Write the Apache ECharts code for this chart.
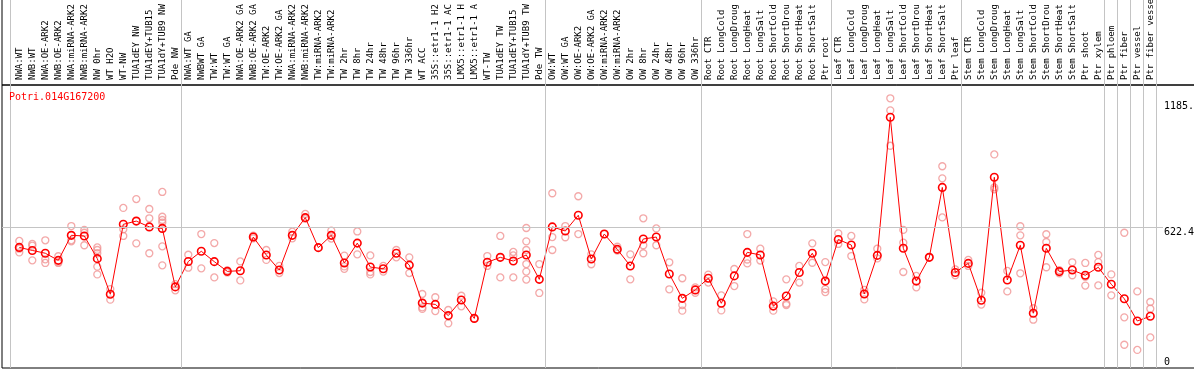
<!DOCTYPE html>
<html>
<head>
<meta charset="utf-8">
<script src="https://cdn.jsdelivr.net/npm/echarts@6.0.0/dist/echarts.min.js"></script>
<style>
html,body{margin:0;padding:0;background:#fff;}
#chart{width:1194px;height:370px;}
</style>
</head>
<body>
<div id="chart"></div>
<script>
const geneName = 'Potri.014G167200';

const categories = [
'NWA:WT','NWB:WT','NWA:OE-ARK2','NWB:OE-ARK2','NWA:miRNA-ARK2','NWB:miRNA-ARK2','NW 0hr','WT H2O','WT-NW','TUA1dEY NW','TUA1dEY+TUB15','TUA1dY+TUB9 NW','Pde NW',
'NWA:WT GA','NWBWT GA','TW:WT','TW:WT GA','NWA:OE-ARK2 GA','NWB:OE-ARK2 GA','TW:OE-ARK2','TW:OE-ARK2 GA','NWA:miRNA-ARK2','NWB:miRNA-ARK2','TW:miRNA-ARK2','TW:miRNA-ARK2','TW 2hr','TW 8hr','TW 24hr','TW 48hr','TW 96hr','TW 336hr','WT ACC','35S::etr1-1 H2','35S::etr1-1 AC','LMX5::etr1-1 H','LMX5::etr1-1 A','WT-TW','TUA1dEY TW','TUA1dEY+TUB15','TUA1dY+TUB9 TW','Pde TW',
'OW:WT','OW:WT GA','OW:OE-ARK2','OW:OE-ARK2 GA','OW:miRNA-ARK2','OW:miRNA-ARK2','OW 2hr','OW 8hr','OW 24hr','OW 48hr','OW 96hr','OW 336hr',
'Root CTR','Root LongCold','Root LongDroug','Root LongHeat','Root LongSalt','Root ShortCold','Root ShortDrou','Root ShortHeat','Root ShortSalt','Ptr root',
'Leaf CTR','Leaf LongCold','Leaf LongDroug','Leaf LongHeat','Leaf LongSalt','Leaf ShortCold','Leaf ShortDrou','Leaf ShortHeat','Leaf ShortSalt','Ptr leaf',
'Stem CTR','Stem LongCold','Stem LongDroug','Stem LongHeat','Stem LongSalt','Stem ShortCold','Stem ShortDrou','Stem ShortHeat','Stem ShortSalt','Ptr shoot','Ptr xylem',
'Ptr phloem','Ptr fiber','Ptr vessel','Ptr fiber vessel'
];

const meanValues = [
531,517,504,471,587,584,479,314,638,653,626,619,348,
466,513,465,420,423,579,496,426,587,669,530,587,459,551,440,432,504,449,273,267,215,287,202,462,485,468,496,383,
626,607,680,477,593,522,445,570,579,408,295,334,
388,272,399,508,496,259,306,415,504,375,
568,542,315,494,1134,527,375,485,809,415,
457,286,856,380,541,226,527,419,426,402,439,
360,293,190,212
];

const replicateValues = [
[561,525,508],[547,539,471],[564,476,459],[490,462,459],[630,559,564],[612,599,541],[531,519,504,442,406],[338,289],[714,615,584],[755,550],[709,666,504],[788,673,658,646,536,448],[361,332],
[497,437],[593,434],[551,392],[425,415],[466,378],[585,573],[519,473],[445,412],[604,573],[686,664],[530],[609,572],[493,443,432],[605,499],[494,417,406],[445,419],[519,485],[485,412],[315,253,246],[300,236],[241,179],[307,258],[202],[491,445],[584,392],[510,494,392],[621,559,519,454,419,382],[454,320],
[782,579,519],[630,578],[768,593],[499,453],[593],[534,516],[499,383],[666,541,504],[619,541],[462,337],[388,264,238],[346,321],
[405,368],[309,239],[431,352],[593,475,457],[525,470],[281,238],[383,270,264],[445,368],[550,460],[463,338,324],
[596,547],[584,491],[334,290],[525,480],[1222,1166,1002],[612,553,417],[399,346],[485],[907,851,670],[429,402],
[473,445],[321,266],[962,809,800],[422,327],[629,587,411],[249,196],[592,556,439],[426,411],[462,402],[459,395,354],[496,463,355],
[406,309],[599,207,80],[327,56],[278,247,114]
];

const yTickValues = [0, 622.4, 1185];
const yTickLabels = ['0', '622.4', '1185.'];
const groupLastIndex = [12, 40, 52, 62, 72, 83, 84, 85, 86, 87];

// layout constants
const X_MIN = -1.3308, X_MAX = 87.977;
const Y_MIN = -27.8, Y_MAX = 1283.6;
const MONO = 'DejaVu Sans Mono';

const sepLines = [{xAxis: -0.66}].concat(groupLastIndex.map(i => ({xAxis: i + 0.42})));
const repData = [];
replicateValues.forEach((arr, i) => arr.forEach(v => repData.push([i, v])));
const meanData = meanValues.map((v, i) => [i, v]);

const chart = echarts.init(document.getElementById('chart'), null, {renderer: 'canvas'});
const option = {
  animation: false,
  backgroundColor: '#ffffff',
  title: {
    text: geneName, left: 9, top: 92, padding: 0,
    textStyle: {color: '#ff0000', fontSize: 10, fontWeight: 'normal', fontFamily: MONO}
  },
  grid: [
    {left: 2, right: 31, top: 85, bottom: 2, outerBoundsMode: 'none'},
    {left: 12.8, right: 37.2, top: 85, bottom: 2, outerBoundsMode: 'none'},
    {left: 2, right: 31, top: 0, bottom: 2, outerBoundsMode: 'none'},
    {left: 2, right: -5, top: 85, bottom: 2, show: true, borderColor: '#000', borderWidth: 1, backgroundColor: 'transparent', outerBoundsMode: 'none'},
    {left: 2, right: -5, top: -5, height: 90, show: true, borderColor: '#000', borderWidth: 1, backgroundColor: 'transparent', outerBoundsMode: 'none'}
  ],
  xAxis: [
    {gridIndex: 0, type: 'value', min: X_MIN, max: X_MAX, show: false},
    {gridIndex: 1, type: 'category', data: categories, position: 'top', boundaryGap: true,
      axisLine: {show: false}, axisTick: {show: false}, splitLine: {show: false},
      axisLabel: {interval: 0, rotate: 90, margin: 5, fontSize: 9, fontFamily: MONO, color: '#000'}},
    {gridIndex: 2, type: 'value', min: X_MIN, max: X_MAX, show: false},
    {gridIndex: 3, type: 'value', min: 0, max: 1, show: false},
    {gridIndex: 4, type: 'value', min: 0, max: 1, show: false}
  ],
  yAxis: [
    {gridIndex: 0, type: 'value', min: Y_MIN, max: Y_MAX, position: 'right',
      axisLine: {show: false}, axisTick: {show: false}, splitLine: {show: false},
      axisLabel: {
        customValues: yTickValues, margin: 1, fontSize: 10, fontFamily: MONO, color: '#000', align: 'left',
        formatter: function (v) {
          const i = yTickValues.indexOf(v);
          const t = i >= 0 ? yTickLabels[i] : '';
          return i === 1 ? '{low|' + t + '}' : t;
        },
        rich: {low: {padding: [10, 0, 0, 0], fontSize: 10, fontFamily: MONO, color: '#000'}}
      }},
    {gridIndex: 1, type: 'value', min: 0, max: 1, show: false},
    {gridIndex: 2, type: 'value', min: 0, max: 1, show: false},
    {gridIndex: 3, type: 'value', min: 0, max: 1, show: false},
    {gridIndex: 4, type: 'value', min: 0, max: 1, show: false}
  ],
  series: [
    {
      type: 'line', xAxisIndex: 2, yAxisIndex: 2, data: [[X_MIN - 10, -1]], showSymbol: false, silent: true, z: 1,
      lineStyle: {width: 0},
      markLine: {silent: true, symbol: 'none', label: {show: false}, animation: false,
        lineStyle: {color: '#c4c4c4', type: 'solid', width: 1}, data: sepLines}
    },
    {
      type: 'scatter', xAxisIndex: 0, yAxisIndex: 0, data: repData, z: 2, silent: true,
      symbol: 'circle', symbolSize: 7,
      itemStyle: {color: 'rgba(255,255,255,0)', borderColor: '#f09494', borderWidth: 1.3},
      markLine: {silent: true, symbol: 'none', label: {show: false}, animation: false,
        lineStyle: {color: '#c4c4c4', type: 'solid', width: 1}, data: [{yAxis: yTickValues[1]}]}
    },
    {
      type: 'line', xAxisIndex: 0, yAxisIndex: 0, data: meanData, z: 3, silent: true,
      symbol: 'circle', symbolSize: 7.5, showSymbol: true, showAllSymbol: true,
      itemStyle: {color: 'rgba(255,255,255,0)', borderColor: '#ff0000', borderWidth: 1.6},
      lineStyle: {color: '#ff0000', width: 1}
    }
  ]
};
chart.setOption(option);
</script>
</body>
</html>
